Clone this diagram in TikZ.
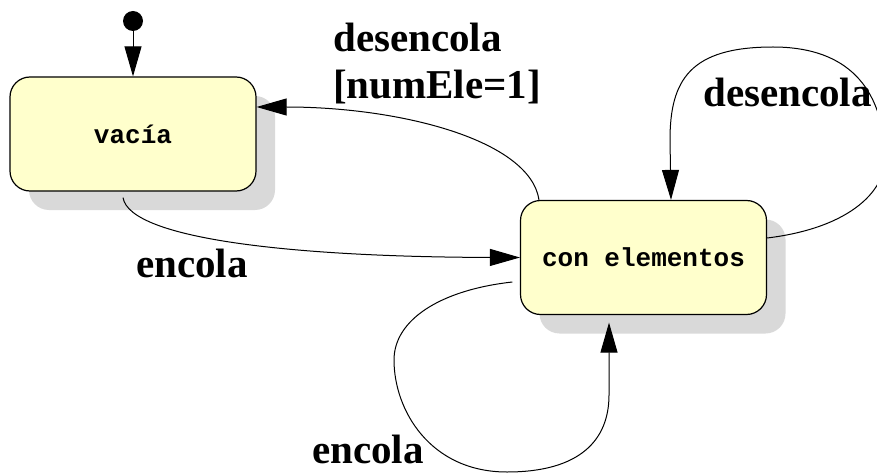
\documentclass[tikz,border=0pt]{standalone}
\usepackage{fontspec}
\setmainfont{Liberation Serif}
\setmonofont{Liberation Mono}
\usepackage{tikz}
\usetikzlibrary{arrows.meta,shadows}
\definecolor{amarillo}{RGB}{255,255,204}
\definecolor{sombra}{RGB}{217,217,217}
\tikzset{
  estado/.style={draw,line width=1.2pt,rounded corners=20pt,fill=amarillo,
    minimum width=246pt,minimum height=114pt,inner sep=0pt,
    font=\ttfamily\bfseries\fontsize{26}{30}\selectfont,
    drop shadow={shadow xshift=19pt,shadow yshift=-19pt,fill=sombra,opacity=1}},
  etiqueta/.style={inner sep=0pt,font=\bfseries\fontsize{41}{47}\selectfont},
  flecha/.style={line width=1pt,-{Triangle[length=30pt,width=17pt]}}
}

\begin{document}
\begin{tikzpicture}[x=1pt,y=-1pt]
\useasboundingbox (0,0) rectangle (877,473);
\clip (0,0) rectangle (877,473); % le bucle de droite sort de l'image

%Estados
\node[estado] (vacia) at (133,134) {vacía};
\node[estado] (conElem) at (643.5,257.5) {con elementos};
\node[circle,fill,inner sep=0pt,minimum size=20pt] (inicio) at (133,21) {};

%Transiciones
\draw[flecha] (inicio) -- (vacia.north);
\draw[flecha] ([xshift=-104.5pt]conElem.north) .. controls (530,140) and (400,107) .. ([yshift=27pt]vacia.east);
\draw[flecha] ([xshift=-10pt,yshift=-6pt]vacia.south) .. controls (130,240) and (300,257) .. (conElem.west);

%Bucles
\draw[flecha] ([yshift=19.5pt]conElem.east) .. controls (850,228) and (890,190) .. (885,150)
  .. controls (880,80) and (840,47) .. (773,47)
  .. controls (690,47) and (670,80) .. (670,140) -- ([xshift=27.5pt]conElem.north);
\draw[flecha] ([xshift=-7.5pt,yshift=-24.5pt]conElem.west) .. controls (440,290) and (394,320) .. (394,360)
  .. controls (394,410) and (430,472) .. (507,472)
  .. controls (580,472) and (609,440) .. (609,395) -- ([xshift=-34.5pt,yshift=-7.5pt]conElem.south);

%Etiquetas
\node[etiqueta,anchor=north west,align=left] (lblSalida) at (333,23) {desencola\\{[numEle=1]}};
\node[etiqueta,anchor=base west] (lblEncola) at (136,277) {encola};
\node[etiqueta,anchor=base west] (lblBucleDes) at (703,107) {desencola};
\node[etiqueta,anchor=base west] (lblBucleEnc) at (312,463) {encola};

\end{tikzpicture}
\end{document}
